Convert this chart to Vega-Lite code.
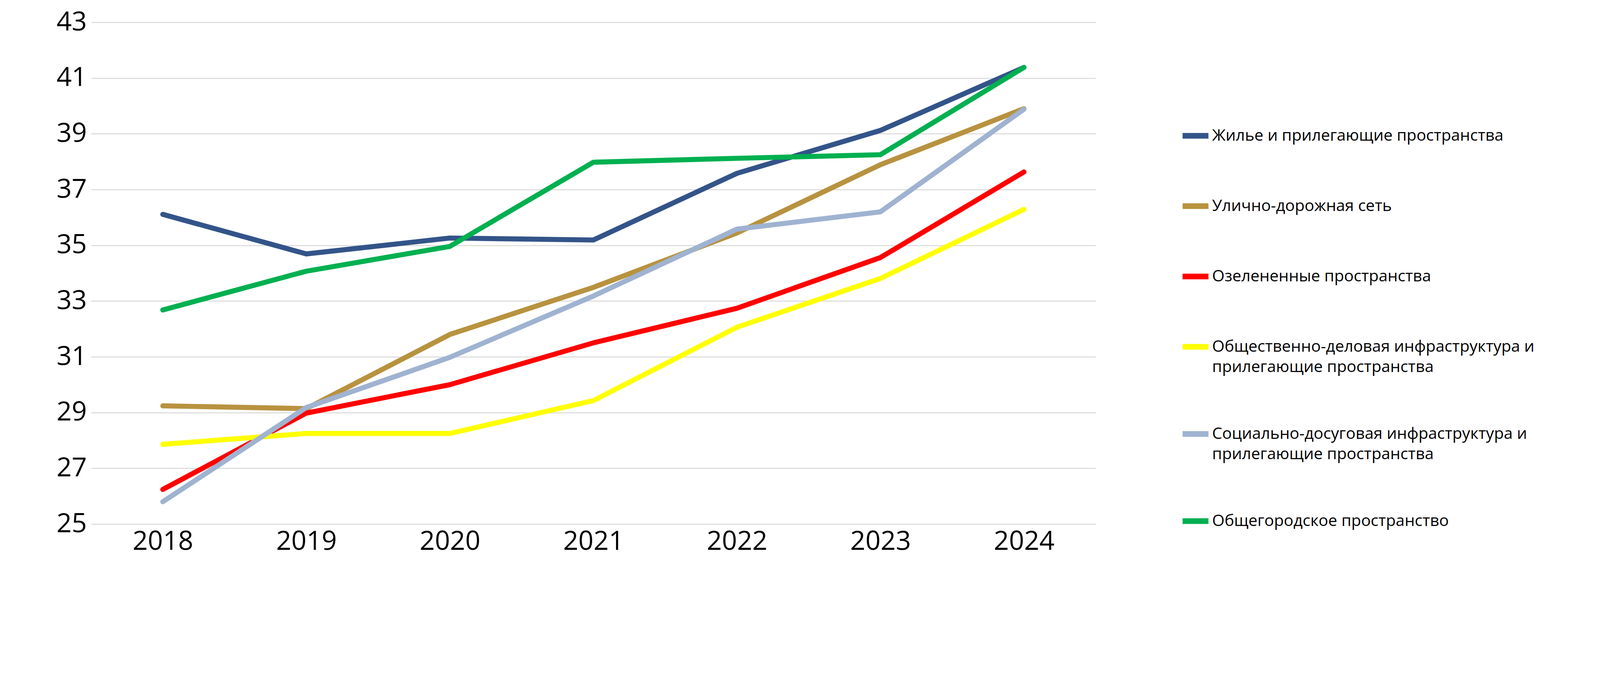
{
  "$schema": "https://vega.github.io/schema/vega-lite/v6.json",
  "autosize": {"type": "none"},
  "width": 2572,
  "height": 1284,
  "padding": {"left": 233, "top": 57, "right": 1650, "bottom": 417},
  "background": "white",
  "config": {
    "view": {"stroke": null},
    "font": "Open Sans"
  },
  "data": {
    "values": [
      {"series": "Жилье и прилегающие пространства", "year": "2018", "value": 36.11},
      {"series": "Жилье и прилегающие пространства", "year": "2019", "value": 34.69},
      {"series": "Жилье и прилегающие пространства", "year": "2020", "value": 35.26},
      {"series": "Жилье и прилегающие пространства", "year": "2021", "value": 35.19},
      {"series": "Жилье и прилегающие пространства", "year": "2022", "value": 37.58},
      {"series": "Жилье и прилегающие пространства", "year": "2023", "value": 39.12},
      {"series": "Жилье и прилегающие пространства", "year": "2024", "value": 41.38},
      {"series": "Улично-дорожная сеть", "year": "2018", "value": 29.24},
      {"series": "Улично-дорожная сеть", "year": "2019", "value": 29.14},
      {"series": "Улично-дорожная сеть", "year": "2020", "value": 31.80},
      {"series": "Улично-дорожная сеть", "year": "2021", "value": 33.49},
      {"series": "Улично-дорожная сеть", "year": "2022", "value": 35.44},
      {"series": "Улично-дорожная сеть", "year": "2023", "value": 37.89},
      {"series": "Улично-дорожная сеть", "year": "2024", "value": 39.90},
      {"series": "Озелененные пространства", "year": "2018", "value": 26.24},
      {"series": "Озелененные пространства", "year": "2019", "value": 28.98},
      {"series": "Озелененные пространства", "year": "2020", "value": 30.00},
      {"series": "Озелененные пространства", "year": "2021", "value": 31.50},
      {"series": "Озелененные пространства", "year": "2022", "value": 32.74},
      {"series": "Озелененные пространства", "year": "2023", "value": 34.56},
      {"series": "Озелененные пространства", "year": "2024", "value": 37.63},
      {"series": "Общественно-деловая инфраструктура и прилегающие пространства", "year": "2018", "value": 27.86},
      {"series": "Общественно-деловая инфраструктура и прилегающие пространства", "year": "2019", "value": 28.25},
      {"series": "Общественно-деловая инфраструктура и прилегающие пространства", "year": "2020", "value": 28.25},
      {"series": "Общественно-деловая инфраструктура и прилегающие пространства", "year": "2021", "value": 29.43},
      {"series": "Общественно-деловая инфраструктура и прилегающие пространства", "year": "2022", "value": 32.06},
      {"series": "Общественно-деловая инфраструктура и прилегающие пространства", "year": "2023", "value": 33.81},
      {"series": "Общественно-деловая инфраструктура и прилегающие пространства", "year": "2024", "value": 36.29},
      {"series": "Социально-досуговая инфраструктура и прилегающие пространства", "year": "2018", "value": 25.80},
      {"series": "Социально-досуговая инфраструктура и прилегающие пространства", "year": "2019", "value": 29.18},
      {"series": "Социально-досуговая инфраструктура и прилегающие пространства", "year": "2020", "value": 30.98},
      {"series": "Социально-досуговая инфраструктура и прилегающие пространства", "year": "2021", "value": 33.18},
      {"series": "Социально-досуговая инфраструктура и прилегающие пространства", "year": "2022", "value": 35.58},
      {"series": "Социально-досуговая инфраструктура и прилегающие пространства", "year": "2023", "value": 36.20},
      {"series": "Социально-досуговая инфраструктура и прилегающие пространства", "year": "2024", "value": 39.88},
      {"series": "Общегородское пространство", "year": "2018", "value": 32.68},
      {"series": "Общегородское пространство", "year": "2019", "value": 34.07},
      {"series": "Общегородское пространство", "year": "2020", "value": 34.96},
      {"series": "Общегородское пространство", "year": "2021", "value": 37.98},
      {"series": "Общегородское пространство", "year": "2022", "value": 38.12},
      {"series": "Общегородское пространство", "year": "2023", "value": 38.25},
      {"series": "Общегородское пространство", "year": "2024", "value": 41.38}
    ]
  },
  "mark": {"type": "line", "strokeWidth": 12.9, "strokeCap": "round", "strokeJoin": "round"},
  "encoding": {
    "x": {
      "field": "year",
      "type": "ordinal",
      "title": null,
      "scale": {"type": "point", "padding": 0.5},
      "axis": {
        "labelAngle": 0,
        "labelFont": "Open Sans",
        "labelFontSize": 68,
        "labelColor": "#000000",
        "labelPadding": 11,
        "ticks": false,
        "domain": false,
        "grid": false
      }
    },
    "y": {
      "field": "value",
      "type": "quantitative",
      "title": null,
      "scale": {"domain": [25, 43], "nice": false, "zero": false},
      "axis": {
        "values": [25, 27, 29, 31, 33, 35, 37, 39, 41, 43],
        "labelFont": "Open Sans",
        "labelFontSize": 68,
        "labelColor": "#000000",
        "labelPadding": 11,
        "ticks": false,
        "domain": false,
        "grid": true,
        "gridColor": "#d9d9d9",
        "gridWidth": 2.3
      }
    },
    "color": {
      "field": "series",
      "type": "nominal",
      "scale": {
        "domain": [
          "Жилье и прилегающие пространства",
          "Улично-дорожная сеть",
          "Озелененные пространства",
          "Общественно-деловая инфраструктура и прилегающие пространства",
          "Социально-досуговая инфраструктура и прилегающие пространства",
          "Общегородское пространство"
        ],
        "range": ["#335489", "#B8923F", "#FF0000", "#FFFF00", "#9FB3D1", "#00B050"]
      },
      "legend": {
        "title": null,
        "orient": "none",
        "legendX": 2787,
        "legendY": 250,
        "direction": "vertical",
        "padding": 0,
        "symbolType": "stroke",
        "symbolSize": 4382,
        "symbolStrokeWidth": 14.7,
        "labelFont": "Open Sans",
        "labelFontSize": 41,
        "labelColor": "#000000",
        "labelLimit": 1300,
        "labelOffset": 2,
        "rowPadding": 110,
        "labelExpr": "length(datum.label) > 40 ? [replace(datum.label, ' прилегающие пространства', ''), 'прилегающие пространства'] : datum.label",
        "encode": {
          "labels": {"update": {"lineHeight": {"value": 52}}}
        }
      }
    }
  }
}
